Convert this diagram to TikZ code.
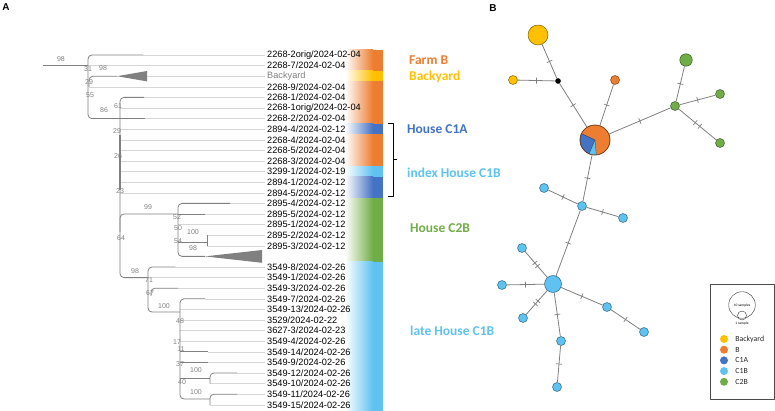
\documentclass[tikz,border=0pt]{standalone}
\usepackage{fontspec}
\setmainfont{Liberation Sans}
\newfontfamily\calibri{Carlito}
\usetikzlibrary{positioning}
\definecolor{cB}{HTML}{ED7D31}
\definecolor{cBy}{HTML}{FFC000}
\definecolor{cCA}{HTML}{4472C4}
\definecolor{cCB}{HTML}{5EC3F0}
\definecolor{cCC}{HTML}{70AD47}
\definecolor{branch}{HTML}{808080}
\definecolor{guide}{HTML}{D6D6D6}
\definecolor{edgegray}{HTML}{7F7F7F}
\tikzset{
 br/.style={draw=branch, line width=0.8pt, rounded corners=4pt},
 guideline/.style={draw=guide, line width=0.5pt, shorten >=2pt},
 boot/.style={text=branch, font=\fontsize{7}{7}\selectfont, inner sep=0pt},
 tip/.style={anchor=west, inner sep=0pt, font=\fontsize{9.2}{10}\selectfont},
 grp/.style={anchor=west, inner sep=0pt, font=\calibri\bfseries\fontsize{13.5}{14}\selectfont},
 hap/.style={circle, draw=#1!50!black, fill=#1, line width=0.5pt, inner sep=0pt},
 link/.style={draw=edgegray, line width=0.8pt},
 mut/.style={sloped, fill=edgegray, inner sep=0pt, minimum width=0.7pt, minimum height=6pt},
}
\begin{document}
\begin{tikzpicture}[x=1pt, y=-1pt, line join=round]
 \useasboundingbox (0,0) rectangle (775,411);
 \node[font=\bfseries\fontsize{10}{10}\selectfont] (panA) at (6,7) {A};
 \node[font=\bfseries\fontsize{10}{10}\selectfont] (panB) at (493,8) {B};
 % colour bands
 \foreach \ya/\yb/\col in {49.7/70.9/cB, 70.9/81.5/cBy, 81.5/123.9/cB, 123.9/134.5/cCA,
   134.5/166.3/cB, 166.3/176.9/cCB, 176.9/198.1/cCA, 198.1/261.7/cCC, 261.7/411/cCB}
 {
  \shade[left color=white, right color=\col] (345,\ya) rectangle (373,\yb);
  \fill[\col] (372.5,\ya) rectangle (383,\yb);
 }
 % tree (panel A)
 \foreach \lab [count=\i, evaluate=\i as \yy using 55+10.6*(\i-1)] in
  {2268-2orig/2024-02-04, 2268-7/2024-02-04, {\color{branch}Backyard}, 2268-9/2024-02-04,
   2268-1/2024-02-04, 2268-1orig/2024-02-04, 2268-2/2024-02-04, 2894-4/2024-02-12,
   2268-4/2024-02-04, 2268-5/2024-02-04, 2268-3/2024-02-04, 3299-1/2024-02-19,
   2894-1/2024-02-12, 2894-5/2024-02-12, 2895-4/2024-02-12, 2895-5/2024-02-12,
   2895-1/2024-02-12, 2895-2/2024-02-12, 2895-3/2024-02-12, -,
   3549-8/2024-02-26, 3549-1/2024-02-26, 3549-3/2024-02-26, 3549-7/2024-02-26,
   3549-13/2024-02-26, 3529/2024-02-22, 3627-3/2024-02-23, 3549-4/2024-02-26,
   3549-14/2024-02-26, 3549-9/2024-02-26, 3549-12/2024-02-26, 3549-10/2024-02-26,
   3549-11/2024-02-26, 3549-15/2024-02-26}
  {\ifnum\i=20\relax\else \node[tip] (t\i) at (267,\yy) {\lab};\fi}
 \foreach \i/\sx in {1/143,2/88,3/147,4/89,5/144,6/120,7/145,8/120,9/120,10/120,11/120,
   12/120,13/120,14/120,15/230,16/205,17/178,18/207,19/207,21/175,22/148,23/178,24/205,
   25/180,26/180,27/180,28/180,29/208,30/208,31/237,32/210,33/237,34/210}
  \draw[guideline] (\sx,{55+10.6*(\i-1)}) -- (t\i.west);
 \draw[br] (43,65.6) -- (88,65.6);
 \draw[br] (143,55) -| (88,118.6) -- (145,118.6);
 \draw[br] (89,87) |- (117,76.2);
 \fill[branch] (117,76.2) -- (147,71) -- (147,81.4) -- cycle;
 \draw[br] (144,97.4) -| (120,277.6) -- (148,277.6);
 \draw[branch, line width=1.4pt] (120,135) -- (120,190);
 \draw[br] (120,232) |- (178,214);
 \draw[br] (230,203.4) -| (178,256.4) -- (205,256.4);
 \fill[branch] (205,256.4) -- (262,250) -- (262,262.8) -- cycle;
 \draw[br] (178,214) -- (205,214);
 \draw[br] (178,242) -- (207,242);
 \draw[br] (207,235.2) -- (207,245.8);
 \draw[br] (175,267) -| (148,312) -- (180,312);
 \draw[br] (151,296) |- (178,288.2);
 \draw[br] (205,298.8) -| (180,399) -- (210,399);
 \draw[br] (180,351.8) -- (208,351.8);
 \draw[br] (180,362.4) -- (208,362.4);
 \draw[br] (180,378) -- (210,378);
 \draw[br] (237,373) -| (210,383.6);
 \draw[br] (237,394.2) -| (210,404.8);
 \foreach \bx/\by/\bv in {61/59/98, 88/69/31, 103/68/98, 89/82/29, 90/95/55, 104/110/86,
   118/106/61, 117/131/29, 118/156/26, 120/191/23, 148/207/99, 121/238/64, 177/217/52,
   178/228/50, 178/241/54, 193/232/100, 193/248/98, 135/271/98, 149/280/71, 150/293/67,
   164/306/100, 180/321/48, 177/342/17, 181/349/11, 180/364/37, 182/382/40,
   196/370/100, 196/392/100}
  \node[boot] at (\bx,\by) {\bv};
 \node[grp, text=cB] (lFarm) at (409,60) {Farm B};
 \node[grp, text=cBy] (lBack) at (409,77) {Backyard};
 \node[grp, text=cCA] (lC1A) at (407,129) {House C1A};
 \node[grp, text=cCB] (lIdx) at (407,173) {index House C1B};
 \node[grp, text=cCC] (lC2B) at (410,228) {House C2B};
 \node[grp, text=cCB] (lLate) at (410,331) {late House C1B};
 \draw[line width=0.6pt] (388,123) -- (393,123) -- (393,196) -- (388,196);
 \draw[line width=0.6pt] (393,159) -- (397,159);
 % network (panel B)
 \node[hap=cBy, minimum size=20pt] (yBig) at (538,35) {};
 \node[hap=black, minimum size=5pt] (mv) at (558,81) {};
 \node[hap=cBy, minimum size=9pt] (ySm) at (513,80) {};
 \node[hap=cB, minimum size=9pt] (oSm) at (615,80) {};
 \node[hap=cB, minimum size=30pt] (hub) at (595,140) {};
 \filldraw[fill=cCA, draw=cCA!50!black, line width=0.4pt] (hub.center) -- ++(155:15pt)
   arc[start angle=155, end angle=247, radius=15pt] -- cycle;
 \filldraw[fill=cCB, draw=cCB!50!black, line width=0.4pt] (hub.center) -- ++(247:15pt)
   arc[start angle=247, end angle=275, radius=15pt] -- cycle;
 \draw[cB!50!black, line width=0.5pt] (hub.center) circle[radius=15pt];
 \node[hap=cCC, minimum size=9pt] (gHub) at (675,106) {};
 \node[hap=cCC, minimum size=12.5pt] (gBig) at (686,60) {};
 \node[hap=cCC, minimum size=9pt] (gA) at (720,94) {};
 \node[hap=cCC, minimum size=9pt] (gB) at (720,143) {};
 \node[hap=cCB, minimum size=9pt] (c1) at (582,206) {};
 \node[hap=cCB, minimum size=9pt] (c2) at (544,188) {};
 \node[hap=cCB, minimum size=9pt] (c3) at (623,218) {};
 \node[hap=cCB, minimum size=17pt] (cBig) at (553,284) {};
 \node[hap=cCB, minimum size=9pt] (c4) at (522,248) {};
 \node[hap=cCB, minimum size=9pt] (c5) at (502,285) {};
 \node[hap=cCB, minimum size=9pt] (c6) at (523,318) {};
 \node[hap=cCB, minimum size=9pt] (c7) at (561,341) {};
 \node[hap=cCB, minimum size=9pt] (c8) at (557,387) {};
 \node[hap=cCB, minimum size=9pt] (c9) at (607,307) {};
 \node[hap=cCB, minimum size=9pt] (c10) at (644,332) {};
 \foreach \a/\b in {yBig/mv, ySm/mv, mv/hub, oSm/hub, hub/gHub, gHub/gBig, gHub/gA,
   hub/c1, c1/c2, c1/c3, c1/cBig, cBig/c5, cBig/c7, c7/c8, cBig/c9, c9/c10}
  \draw[link] (\a) -- node[mut]{} (\b);
 \foreach \a/\b in {gHub/gB, cBig/c4, cBig/c6}
  \draw[link] (\a) -- node[mut, pos=.44]{} node[mut, pos=.56]{} (\b);
 % legend
 \draw[black!70, line width=0.5pt] (710,284) rectangle (774,399);
 \draw[black!80, line width=0.4pt] (742,305) circle[radius=13.3pt];
 \draw[black!80, line width=0.4pt] (742,315.5) circle[radius=4.5pt];
 \node[font=\calibri\fontsize{3.6}{4}\selectfont, inner sep=0pt] (sz10) at (742,305.5) {10 samples};
 \node[font=\calibri\fontsize{3.6}{4}\selectfont, inner sep=0pt] (sz1) at (742,323.5) {1 sample};
 \foreach \col/\txt [count=\k] in {cBy/Backyard, cB/B, cCA/C1A, cCB/C1B, cCC/C2B}
 {
  \node[circle, fill=\col, minimum size=8pt, inner sep=0pt] (dot\k) at (724,{339+10.7*(\k-1)}) {};
  \node[right=7pt of dot\k, inner sep=0pt, text=black!85, font=\calibri\fontsize{7.8}{8}\selectfont] (key\k) {\txt};
 }
\end{tikzpicture}
\end{document}
